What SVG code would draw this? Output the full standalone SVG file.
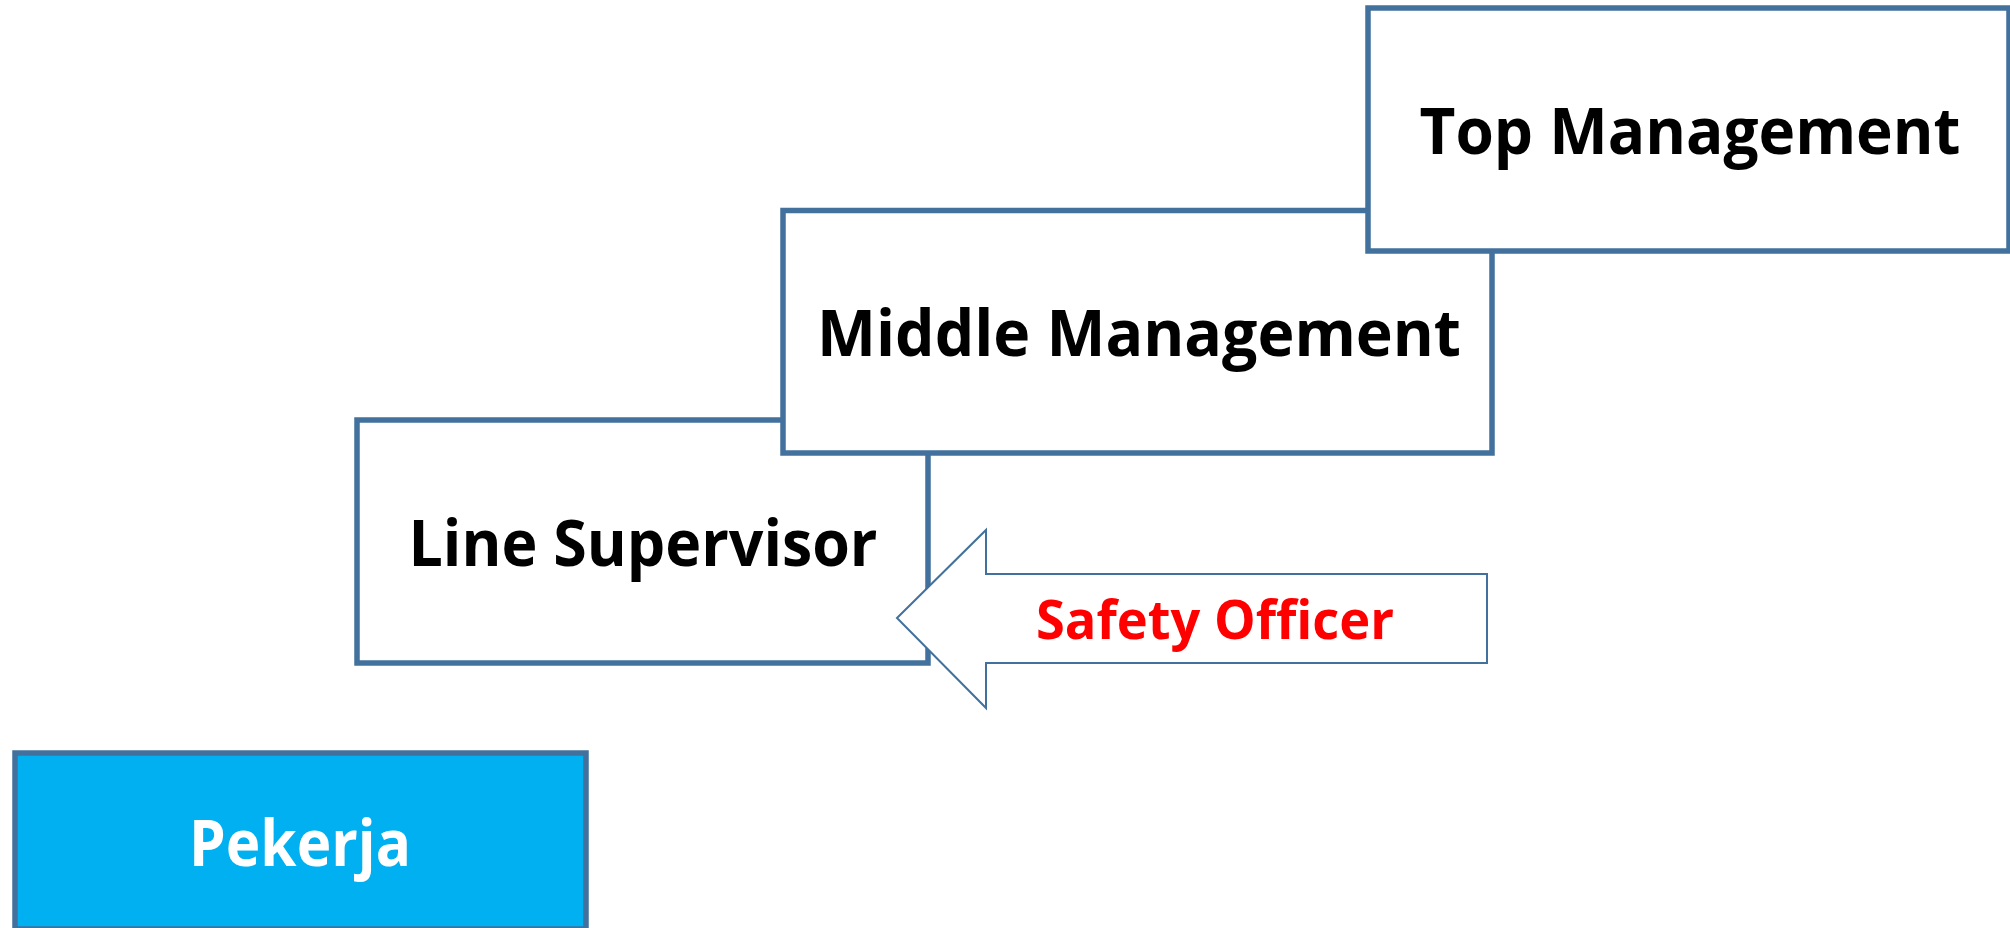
<svg xmlns="http://www.w3.org/2000/svg" width="2010" height="928" viewBox="0 0 2010 928">
  <style>
    .box { fill: #ffffff; stroke: #41719C; stroke-width: 5.5; }
    .blue { fill: #00B0F0; stroke: #41719C; stroke-width: 5.5; }
    .arrow { fill: #ffffff; stroke: #41719C; stroke-width: 2; stroke-linejoin: miter; }
    .lbl { font-family: "Open Sans", "Noto Sans", "Liberation Sans", sans-serif; font-weight: 700; text-anchor: middle; }
    .big { font-size: 64px; fill: #000000; }
  </style>
  <rect x="0" y="0" width="2010" height="928" fill="#ffffff"/>
  <g id="line-supervisor">
    <rect class="box" x="357" y="420" width="571" height="243"/>
    <text class="lbl big" x="643" y="566" textLength="469" lengthAdjust="spacingAndGlyphs">Line Supervisor</text>
  </g>
  <g id="middle-management">
    <rect class="box" x="783" y="210.5" width="709" height="242.5"/>
    <text class="lbl big" x="1139" y="356" textLength="644" lengthAdjust="spacingAndGlyphs">Middle Management</text>
  </g>
  <g id="top-management">
    <rect class="box" x="1368" y="8" width="641" height="243"/>
    <text class="lbl big" x="1690" y="154" textLength="541" lengthAdjust="spacingAndGlyphs">Top Management</text>
  </g>
  <g id="pekerja">
    <rect class="blue" x="15" y="753" width="571" height="176"/>
    <text class="lbl big" x="300" y="866" fill="#ffffff" style="fill:#ffffff" textLength="222" lengthAdjust="spacingAndGlyphs">Pekerja</text>
  </g>
  <g id="connectors"></g>
  <g id="safety-officer">
    <path class="arrow" d="M897,618 L986,530 L986,574 L1487,574 L1487,663 L986,663 L986,708 Z"/>
    <text class="lbl" x="1215" y="639" font-size="54" fill="#FF0000" textLength="358" lengthAdjust="spacingAndGlyphs">Safety Officer</text>
  </g>
</svg>
